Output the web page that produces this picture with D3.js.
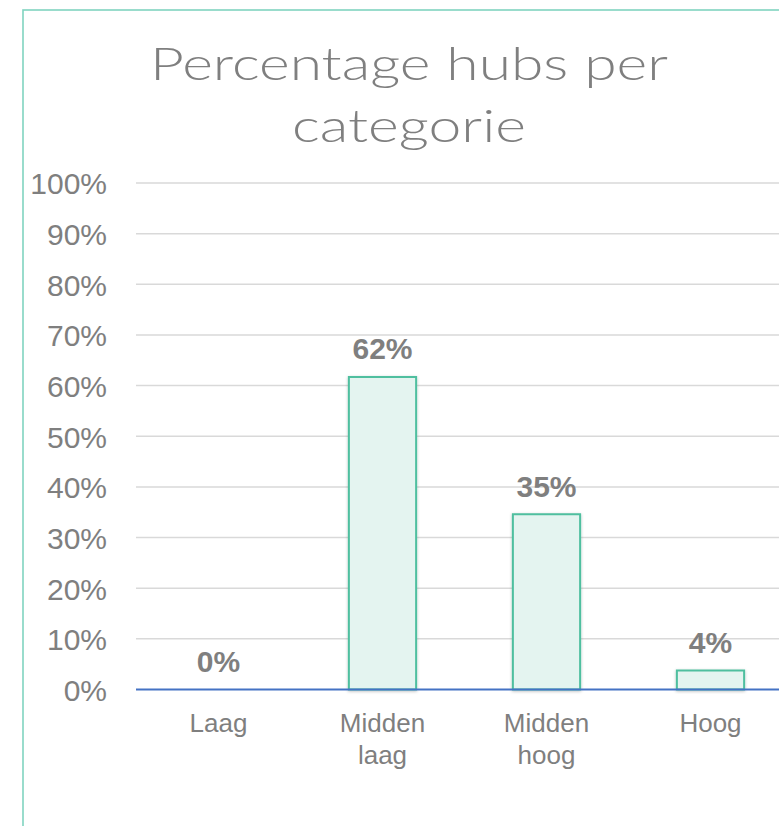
<!DOCTYPE html>
<html>
<head>
<meta charset="utf-8">
<script src="https://cdn.jsdelivr.net/npm/d3@7"></script>
<style>
html,body{margin:0;padding:0;background:#fff;}
svg{display:block;}
</style>
</head>
<body>
<svg id="chart" width="779" height="826"></svg>
<script>
const titleLines = ["Percentage hubs per", "categorie"];
const categories = [["Laag"], ["Midden", "laag"], ["Midden", "hoog"], ["Hoog"]];
const values = [0, 61.7, 34.6, 3.75];
const valueLabels = ["0%", "62%", "35%", "4%"];
const yTicks = [0, 10, 20, 30, 40, 50, 60, 70, 80, 90, 100];

const svg = d3.select("#chart");
const font = "'Liberation Sans', Arial, sans-serif";

// frame
svg.append("rect").attr("x", 23).attr("y", 10).attr("width", 820).attr("height", 900)
  .attr("fill", "none").attr("stroke", "#80d4c0").attr("stroke-width", 1.6);

const defs = svg.append("defs");
const f = defs.append("filter").attr("id", "sh").attr("x", "-20%").attr("y", "-20%").attr("width", "140%").attr("height", "140%");
f.append("feDropShadow").attr("dx", 0).attr("dy", 1).attr("stdDeviation", 1.5).attr("flood-color", "#000").attr("flood-opacity", 0.25);

const x = d3.scaleBand().domain(d3.range(categories.length)).range([136.5, 792.5]).paddingInner(0.59).paddingOuter(0.295);
const y = d3.scaleLinear().domain([0, 100]).range([689.5, 183]);

// title
svg.append("g").selectAll("text").data(titleLines).join("text")
  .attr("x", 409).attr("y", (d, i) => 80 + i * 62)
  .attr("text-anchor", "middle")
  .attr("font-family", "Lato, 'Noto Sans', sans-serif").attr("font-weight", 300)
  .attr("font-size", 46).attr("fill", "#7f7f7f")
  .attr("textLength", (d, i) => i === 0 ? 518 : 234).attr("lengthAdjust", "spacingAndGlyphs")
  .text(d => d);

// gridlines
svg.append("g").selectAll("line").data(yTicks.filter(t => t > 0)).join("line")
  .attr("x1", 136).attr("x2", 800)
  .attr("y1", d => y(d)).attr("y2", d => y(d))
  .attr("stroke", "#d9d9d9").attr("stroke-width", 1.5);

// y axis labels
const yAxis = d3.axisLeft(y).tickValues(yTicks).tickFormat(d => d + "%").tickSize(0).tickPadding(0);
const ya = svg.append("g").attr("transform", "translate(107,0)").call(yAxis);
ya.select(".domain").remove();
ya.selectAll("text").attr("font-family", font).attr("font-size", 30).attr("fill", "#7f7f7f")
  .attr("dy", "0.36em");

// bars
svg.append("g").selectAll("rect").data(values).join("rect")
  .filter(d => d > 0)
  .attr("x", (d, i) => x(values.indexOf(d)))
  .attr("width", x.bandwidth())
  .attr("y", d => y(d))
  .attr("height", d => y(0) - y(d))
  .attr("fill", "#e4f4f0").attr("stroke", "#4fbf9f").attr("stroke-width", 2)
  .attr("filter", "url(#sh)");

// baseline
svg.append("line").attr("x1", 136).attr("x2", 800).attr("y1", y(0)).attr("y2", y(0))
  .attr("stroke", "#4472c4").attr("stroke-width", 2);

// value labels
svg.append("g").selectAll("text").data(values).join("text")
  .attr("x", (d, i) => x(i) + x.bandwidth() / 2)
  .attr("y", d => y(d) - 17.5)
  .attr("text-anchor", "middle")
  .attr("font-family", font).attr("font-weight", "bold").attr("font-size", 30).attr("fill", "#7f7f7f")
  .text((d, i) => valueLabels[i]);

// category labels
const cg = svg.append("g").selectAll("text").data(categories).join("text")
  .attr("text-anchor", "middle")
  .attr("font-family", font).attr("font-size", 26).attr("fill", "#7f7f7f");
cg.selectAll("tspan").data((d, i) => d.map(t => ({t, i}))).join("tspan")
  .attr("x", d => x(d.i) + x.bandwidth() / 2)
  .attr("y", (d, j) => 732 + j * 32)
  .text(d => d.t);
</script>
</body>
</html>
